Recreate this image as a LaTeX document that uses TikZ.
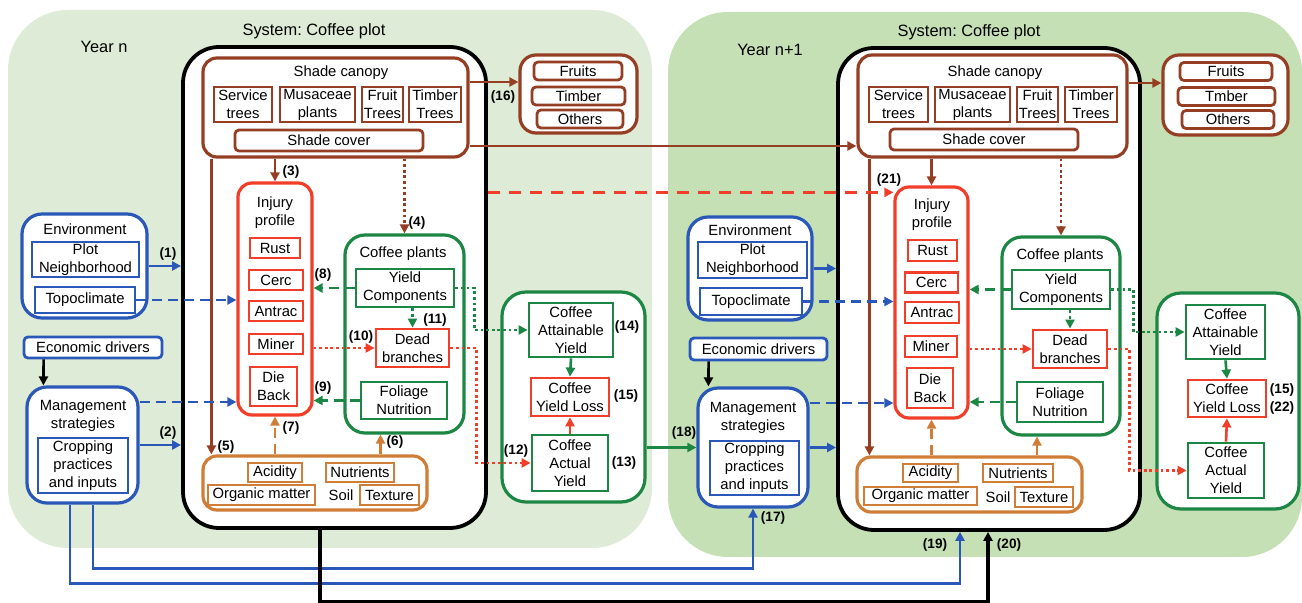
\documentclass[tikz,border=0pt]{standalone}
\usepackage{fontspec}
\setmainfont{Liberation Sans}
\usetikzlibrary{arrows.meta, positioning, calc}
\definecolor{brn}{RGB}{150,62,35}
\definecolor{inj}{RGB}{240,62,42}
\definecolor{grn}{RGB}{28,135,68}
\definecolor{blu}{RGB}{42,88,185}
\definecolor{soil}{RGB}{208,125,55}
\definecolor{paleA}{RGB}{222,235,214}
\definecolor{paleB}{RGB}{198,224,181}
\frenchspacing

\begin{document}
\begin{tikzpicture}[
  x=0.5pt, y=-0.5pt,
  every node/.style={font=\fontsize{7.4}{9}\selectfont},
  grp/.style={draw, line width=1.6pt, fill=white, rounded corners=7pt, inner sep=0pt},
  sub/.style={draw, line width=1.4pt, fill=white, align=center, inner sep=0pt},
  ttl/.style={align=center},
  head/.style={font=\fontsize{8.2}{10}\selectfont},
  num/.style={font=\fontsize{6.8}{8}\selectfont\bfseries},
  arr/.style={line width=1.3pt, -{Triangle[length=4.5pt,width=4.5pt]}},
  dsh/.style={dash pattern=on 5pt off 3pt},
  dlong/.style={line width=1.5pt, dash pattern=on 6pt off 4.5pt},
  dot/.style={line width=1.4pt, dash pattern=on 1.4pt off 1.4pt},
]
\useasboundingbox (0,0) rectangle (1302,603);
\fill[paleA, rounded corners=30pt] (8,10) rectangle (652,548);
\fill[paleB, rounded corners=30pt] (668,12) rectangle (1302,557);

% year n
\node[head] (yearA) at (104,47) {Year n};
\node[head] (sysAt) at (314,31) {System: Coffee plot};
\node[grp, draw=black, line width=1.9pt, rounded corners=18pt, minimum width=151.5pt, minimum height=240.5pt] (sysA) at (334.5,287.5) {};

\node[grp, draw=brn, minimum width=132.5pt, minimum height=49.5pt] (canA) at (335.5,107.5) {};
\node (canAt) at (341,73) {Shade canopy};
\node[sub, draw=brn, minimum width=29pt, minimum height=17.5pt] (svcA) at (243,104.5) {Service\\trees};
\node[sub, draw=brn, minimum width=37.5pt, minimum height=17.5pt] (musA) at (317.5,104.5) {Musaceae\\plants};
\node[sub, draw=brn, minimum width=20.5pt, minimum height=17.5pt] (fruA) at (382.5,104.5) {Fruit\\Trees};
\node[sub, draw=brn, minimum width=26pt, minimum height=17.5pt] (timA) at (435,104.5) {Timber\\Trees};
\node[sub, draw=brn, rounded corners=2pt, minimum width=94pt, minimum height=10.5pt] (covA) at (329,140.5) {Shade cover};

\node[grp, draw=brn, rounded corners=8pt, minimum width=58.5pt, minimum height=39pt] (prodA) at (578.5,94) {};
\node[sub, draw=brn, rounded corners=2pt, minimum width=44pt, minimum height=9pt] (fruitsA) at (578,71) {Fruits};
\node[sub, draw=brn, rounded corners=2pt, minimum width=46.5pt, minimum height=9pt] (timberA) at (578.5,96) {Timber};
\node[sub, draw=brn, rounded corners=2pt, minimum width=43pt, minimum height=9pt] (othersA) at (580,119) {Others};

\node[grp, draw=inj, minimum width=37pt, minimum height=116pt] (injA) at (275,299) {};
\node[ttl] (injAt) at (275,213) {Injury\\profile};
\node[sub, draw=inj, minimum width=25pt, minimum height=10pt] (rustA) at (275,248) {Rust};
\node[sub, draw=inj, minimum width=27pt, minimum height=10pt] (cercA) at (276,280) {Cerc};
\node[sub, draw=inj, minimum width=27pt, minimum height=10pt] (antA) at (276,311) {Antrac};
\node[sub, draw=inj, minimum width=27pt, minimum height=10pt] (minA) at (276,344) {Miner};
\node[sub, draw=inj, minimum width=23.5pt, minimum height=19.5pt] (dieA) at (273.5,386.5) {Die\\Back};

\node[grp, draw=grn, rounded corners=10pt, minimum width=59.5pt, minimum height=99pt] (cofA) at (404.5,334) {};
\node (cofAt) at (403,254) {Coffee plants};
\node[sub, draw=grn, minimum width=49pt, minimum height=19pt] (ycA) at (405,288) {Yield\\Components};
\node[sub, draw=inj, minimum width=36.5pt, minimum height=19pt] (dbA) at (412.5,348) {Dead\\branches};
\node[sub, draw=grn, minimum width=43pt, minimum height=18.5pt] (fnA) at (404,400.5) {Foliage\\Nutrition};

\node[grp, draw=grn, rounded corners=12pt, minimum width=71.5pt, minimum height=105pt] (yldA) at (573.5,397) {};
\node[sub, draw=grn, minimum width=42pt, minimum height=27pt] (attA) at (571,330) {Coffee\\Attainable\\Yield};
\node[sub, draw=inj, minimum width=39pt, minimum height=19pt] (lossA) at (570,397) {Coffee\\Yield Loss};
\node[sub, draw=grn, minimum width=38pt, minimum height=28pt] (actA) at (570,463) {Coffee\\Actual\\Yield};

\node[grp, draw=soil, minimum width=112pt, minimum height=27pt] (soilA) at (315,483) {};
\node[sub, draw=soil, minimum width=27pt, minimum height=9.5pt] (acidA) at (275,472.5) {Acidity};
\node[sub, draw=soil, minimum width=34pt, minimum height=9.5pt] (nutA) at (360,472.5) {Nutrients};
\node[sub, draw=soil, minimum width=53.5pt, minimum height=10pt] (orgA) at (261.5,495) {Organic matter};
\node (soilAt) at (341,495) {Soil};
\node[sub, draw=soil, minimum width=29.5pt, minimum height=10pt] (texA) at (389.5,495) {Texture};

\node[grp, draw=blu, rounded corners=10pt, minimum width=62.5pt, minimum height=52pt] (envA) at (84.5,266) {};
\node (envAt) at (85,229) {Environment};
\node[sub, draw=blu, minimum width=53.5pt, minimum height=17.5pt] (plotA) at (85.5,259.5) {Plot\\Neighborhood};
\node[sub, draw=blu, minimum width=50pt, minimum height=13pt] (topoA) at (85,300) {Topoclimate};
\node[sub, draw=blu, rounded corners=2pt, minimum width=69pt, minimum height=10.5pt] (ecoA) at (93,347.5) {Economic drivers};
\node[grp, draw=blu, rounded corners=10pt, minimum width=55.5pt, minimum height=58pt] (mgtA) at (82.5,445) {};
\node[ttl] (mgtAt) at (83,416) {Management\\strategies};
\node[sub, draw=blu, minimum width=45pt, minimum height=27.5pt] (cropA) at (83,465.5) {Cropping\\practices\\and inputs};

% year n+1
\node[head] (yearB) at (770,50) {Year n+1};
\node[head] (sysBt) at (969,32) {System: Coffee plot};
\node[grp, draw=black, line width=1.9pt, rounded corners=18pt, minimum width=151pt, minimum height=241pt] (sysB) at (989,289) {};

\node[grp, draw=brn, minimum width=134.5pt, minimum height=51pt] (canB) at (992.5,106) {};
\node (canBt) at (995,73) {Shade canopy};
\node[sub, draw=brn, minimum width=29.5pt, minimum height=17.5pt] (svcB) at (898.5,104.5) {Service\\trees};
\node[sub, draw=brn, minimum width=37.5pt, minimum height=17.5pt] (musB) at (972.5,104.5) {Musaceae\\plants};
\node[sub, draw=brn, minimum width=20.5pt, minimum height=17.5pt] (fruB) at (1037.5,104.5) {Fruit\\Trees};
\node[sub, draw=brn, minimum width=26pt, minimum height=17.5pt] (timB) at (1091,104.5) {Timber\\Trees};
\node[sub, draw=brn, rounded corners=2pt, minimum width=94pt, minimum height=10.5pt] (covB) at (984,139.5) {Shade cover};

\node[grp, draw=brn, rounded corners=8pt, minimum width=62.5pt, minimum height=40pt] (prodB) at (1225.5,95) {};
\node[sub, draw=brn, rounded corners=2pt, minimum width=46pt, minimum height=9pt] (fruitsB) at (1226,71.5) {Fruits};
\node[sub, draw=brn, rounded corners=2pt, minimum width=48.5pt, minimum height=9pt] (timberB) at (1226.5,96.5) {Tmber};
\node[sub, draw=brn, rounded corners=2pt, minimum width=46pt, minimum height=9pt] (othersB) at (1228,119.5) {Others};

\node[grp, draw=inj, minimum width=36.5pt, minimum height=115.5pt] (injB) at (931.5,302.5) {};
\node[ttl] (injBt) at (932,215) {Injury\\profile};
\node[sub, draw=inj, minimum width=24.5pt, minimum height=10.5pt] (rustB) at (932.5,250.5) {Rust};
\node[sub, draw=inj, minimum width=26.5pt, minimum height=10pt] (cercB) at (931.5,282.5) {Cerc};
\node[sub, draw=inj, minimum width=27pt, minimum height=10.5pt] (antB) at (932,312.5) {Antrac};
\node[sub, draw=inj, minimum width=26pt, minimum height=10.5pt] (minB) at (931,346.5) {Miner};
\node[sub, draw=inj, minimum width=23pt, minimum height=20pt] (dieB) at (930,388) {Die\\Back};

\node[grp, draw=grn, rounded corners=10pt, minimum width=59pt, minimum height=99pt] (cofB) at (1061,336) {};
\node (cofBt) at (1060,256) {Coffee plants};
\node[sub, draw=grn, minimum width=49pt, minimum height=19.5pt] (ycB) at (1061,289.5) {Yield\\Components};
\node[sub, draw=inj, minimum width=37pt, minimum height=19pt] (dbB) at (1070,349) {Dead\\branches};
\node[sub, draw=grn, minimum width=43pt, minimum height=20pt] (fnB) at (1060,402) {Foliage\\Nutrition};

\node[grp, draw=grn, rounded corners=12pt, minimum width=71pt, minimum height=108pt] (yldB) at (1228,401) {};
\node[sub, draw=grn, minimum width=39.5pt, minimum height=27pt] (attB) at (1225.5,332) {Coffee\\Attainable\\Yield};
\node[sub, draw=inj, minimum width=39pt, minimum height=18.5pt] (lossB) at (1227,398.5) {Coffee\\Yield Loss};
\node[sub, draw=grn, minimum width=38pt, minimum height=27.5pt] (actB) at (1226,470.5) {Coffee\\Actual\\Yield};

\node[grp, draw=soil, minimum width=112.5pt, minimum height=27.5pt] (soilB) at (969.5,484.5) {};
\node[sub, draw=soil, minimum width=27.5pt, minimum height=9pt] (acidB) at (930.5,473) {Acidity};
\node[sub, draw=soil, minimum width=35pt, minimum height=9pt] (nutB) at (1018,473) {Nutrients};
\node[sub, draw=soil, minimum width=56.5pt, minimum height=9pt] (orgB) at (920.5,496) {Organic matter};
\node (soilBt) at (998,497) {Soil};
\node[sub, draw=soil, minimum width=29pt, minimum height=10pt] (texB) at (1044,497) {Texture};

\node[grp, draw=blu, rounded corners=10pt, minimum width=62pt, minimum height=51.5pt] (envB) at (750,268.5) {};
\node (envBt) at (750,230) {Environment};
\node[sub, draw=blu, minimum width=54.5pt, minimum height=18pt] (plotB) at (752.5,260) {Plot\\Neighborhood};
\node[sub, draw=blu, minimum width=51pt, minimum height=13.5pt] (topoB) at (751,301.5) {Topoclimate};
\node[sub, draw=blu, rounded corners=2pt, minimum width=68.5pt, minimum height=11pt] (ecoB) at (758.5,349) {Economic drivers};
\node[grp, draw=blu, rounded corners=10pt, minimum width=55pt, minimum height=59.5pt] (mgtB) at (753,447.5) {};
\node[ttl] (mgtBt) at (753,418) {Management\\strategies};
\node[sub, draw=blu, minimum width=44.5pt, minimum height=27pt] (cropB) at (754.5,468) {Cropping\\practices\\and inputs};

% connectors, year n
\draw[arr, brn] (canA.south -| injA) -- (injA.north);
\draw[arr, brn, dot] (canA.south -| cofA) -- (cofA.north);
\draw[arr, brn] ([xshift=5pt]canA.south west) -- ([xshift=5pt]soilA.north west);
\coordinate (c6A) at ($(cofA.south)+(-24,0)$);
\draw[arr, soil] (soilA.north -| c6A) -- (c6A);
\draw[arr, soil, dsh] (soilA.north -| injA) -- (injA.south);
\draw[arr, grn, dsh] (ycA.west) -- (ycA.west -| injA.east);
\draw[arr, grn, dsh] (fnA.west) -- (fnA.west -| injA.east);
\draw[arr, inj, dot] (injA.east |- dbA.west) -- (dbA.west);
\draw[arr, grn, dot] (ycA.south -| dbA.north) -- (dbA.north);
\draw[arr, inj, dot] (dbA.east) -- ++(26,0) |- (actA.west);
\draw[arr, grn, dot] (ycA.east) -- ++(19,0) |- (attA.west);
\draw[arr, grn] (attA.south) -- (lossA.north);
\draw[arr, inj] (actA.north) -- (lossA.south);
\coordinate (c16A) at ([yshift=12.75pt]canA.east);
\draw[arr, brn] (c16A) -- (c16A -| prodA.west);
\draw[arr, blu] (envA.east) -- (envA.east -| sysA.west);
\draw[arr, blu, dsh] (topoA.east) -- (topoA.east -| injA.west);
\draw[arr] ([xshift=10.5pt]ecoA.south west) -- ([xshift=9pt]mgtA.north west);
\coordinate (cmA) at ([yshift=21.5pt]mgtA.east);
\draw[arr, blu, dsh] (cmA) -- (cmA -| injA.west);
\draw[arr, blu] (mgtA.east) -- (mgtA.east -| sysA.west);

% connectors, year n+1
\draw[arr, brn] (canB.south -| injB) -- (injB.north);
\draw[arr, brn, dot] (canB.south -| cofB) -- (cofB.north);
\draw[arr, brn] ([xshift=6.5pt]canB.south west) -- ([xshift=7pt]soilB.north west);
\coordinate (c6B) at ($(cofB.south)+(-24,0)$);
\draw[arr, soil] (soilB.north -| c6B) -- (c6B);
\draw[arr, soil, dsh] (soilB.north -| injB) -- (injB.south);
\draw[arr, grn, dsh] (ycB.west) -- (ycB.west -| injB.east);
\draw[arr, grn, dsh] (fnB.west) -- (fnB.west -| injB.east);
\draw[arr, inj, dot] (injB.east |- dbB.west) -- (dbB.west);
\draw[arr, grn, dot] (ycB.south -| dbB.north) -- (dbB.north);
\draw[arr, inj, dot] (dbB.east) -- ++(21,0) |- (actB.west);
\draw[arr, grn, dot] (ycB.east) -- ++(22,0) |- (attB.west);
\draw[arr, grn] (attB.south) -- (lossB.north);
\draw[arr, inj] (actB.north) -- (lossB.south);
\coordinate (c16B) at ([yshift=11.5pt]canB.east);
\draw[arr, brn] (c16B) -- (c16B -| prodB.west);
\draw[arr, blu] (envB.east) -- (envB.east -| sysB.west);
\draw[arr, blu, dsh] (topoB.east) -- (topoB.east -| injB.west);
\draw[arr] ([xshift=10pt]ecoB.south west) -- ([xshift=6pt]mgtB.north west);
\coordinate (cmB) at ([yshift=22.25pt]mgtB.east);
\draw[arr, blu, dsh] (cmB) -- (cmB -| injB.west);
\draw[arr, blu] (mgtB.east) -- (mgtB.east -| sysB.west);

% between the years
\coordinate (ccA) at ([yshift=-19.25pt]canA.east);
\draw[arr, brn] (ccA) -- (ccA -| canB.west);
\coordinate (c21) at ([yshift=-3.5pt]injB.north west);
\draw[arr, inj, dlong] (c21 -| sysA.east) -- (c21);
\draw[arr, grn] (mgtB.west -| yldA.east) -- (mgtB.west);
\draw[arr, blu] ([xshift=5.25pt]mgtA.south) -- ++(0,64) -| (mgtB.south);
\draw[arr, blu] ([xshift=-6.25pt]mgtA.south) -- ++(0,79) -| ([xshift=-14.5pt]sysB.south);
\draw[arr, line width=1.6pt] ([xshift=-7.25pt]sysA.south) -- ++(0,72) -| ([xshift=-0.5pt]sysB.south);

% numbers
\node[num] (n1) at (168,254) {(1)};
\node[num] (n2) at (168,433) {(2)};
\node[num] (n3) at (291,172) {(3)};
\node[num] (n4) at (417,223) {(4)};
\node[num] (n5) at (226,447) {(5)};
\node[num] (n6) at (395,442) {(6)};
\node[num] (n7) at (291,428) {(7)};
\node[num] (n8) at (323,275) {(8)};
\node[num] (n9) at (323,388) {(9)};
\node[num] (n10) at (361,337) {(10)};
\node[num] (n11) at (435,320) {(11)};
\node[num] (n12) at (516,451) {(12)};
\node[num] (n13) at (624,463) {(13)};
\node[num] (n14) at (627,327) {(14)};
\node[num] (n15) at (626,396) {(15)};
\node[num] (n16) at (503,97) {(16)};
\node[num] (n17) at (773,518) {(17)};
\node[num] (n18) at (684,433) {(18)};
\node[num] (n19) at (935,545) {(19)};
\node[num] (n20) at (1009,545) {(20)};
\node[num] (n21) at (889,180) {(21)};
\node[num] (n15b) at (1282,390) {(15)};
\node[num] (n22) at (1282,408) {(22)};
\end{tikzpicture}
\end{document}
